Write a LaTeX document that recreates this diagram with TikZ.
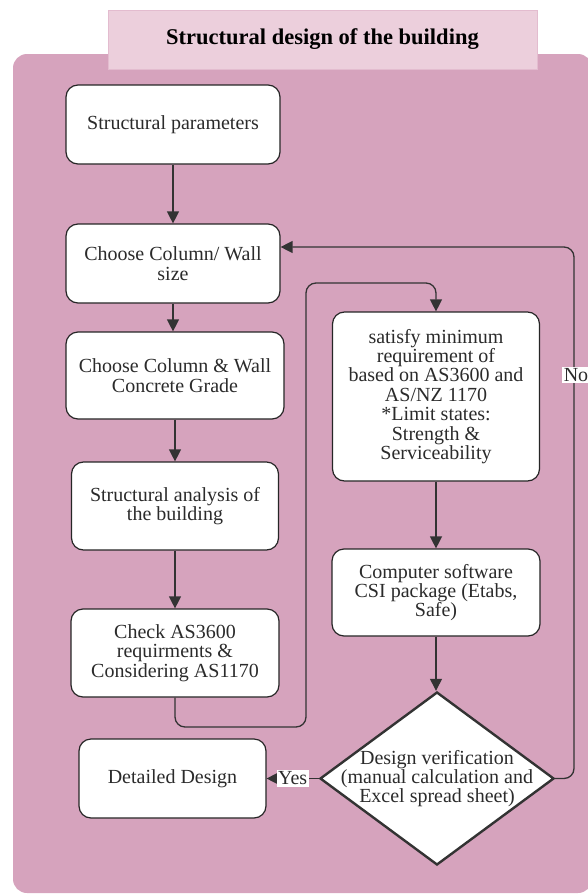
\documentclass[tikz,border=0pt]{standalone}
\usepackage{fontspec}
\setmainfont{Liberation Serif}
\usetikzlibrary{shapes.geometric,arrows.meta}
\definecolor{panelpink}{HTML}{D6A3BD}
\definecolor{titlepink}{HTML}{ECCFDC}
\definecolor{titleedge}{HTML}{E3BCCF}
\definecolor{linegray}{HTML}{333333}
\definecolor{textgray}{HTML}{2B2B2B}

\begin{document}
\begin{tikzpicture}[x=1pt,y=1pt,
  stage/.style={draw=black!85,line width=1.2pt,fill=white,rounded corners=12pt,
    align=center,inner sep=2pt,text=textgray,font=\fontsize{20}{19.4}\selectfont},
  decide/.style={diamond,draw=linegray,line width=2.4pt,fill=white,inner sep=0pt},
  flow/.style={draw=linegray,line width=1.3pt,-{Triangle[length=12pt,width=12pt]}},
  elbow/.style={rounded corners=10pt},
  tag/.style={fill=white,sharp corners,inner sep=1.5pt,text=textgray,font=\fontsize{20}{20}\selectfont}]
  \useasboundingbox (0,0) rectangle (587,-894);

  % panel and heading
  \fill[panelpink,rounded corners=14pt] (13,-54) rectangle (592,-893);
  \node[draw=titleedge,line width=1pt,fill=titlepink,minimum width=429pt,minimum height=59pt,
    font=\fontsize{22.5}{24}\selectfont\bfseries] (title) at (322.5,-39.5) {Structural design of the building};

  % left column
  \node[stage,minimum width=214pt,minimum height=79pt] (params) at (173,-124.5) {Structural parameters};
  \node[stage,minimum width=214pt,minimum height=79pt] (size) at (173,-263.5) {Choose Column/ Wall\\size};
  \node[stage,minimum width=218pt,minimum height=87pt] (grade) at (175,-375.5) {Choose Column \& Wall\\Concrete Grade};
  \node[stage,minimum width=207pt,minimum height=88pt] (analysis) at (175,-506) {Structural analysis of\\the building};
  \node[stage,minimum width=208pt,minimum height=88pt] (check) at (175,-653) {Check AS3600\\requirments \&\\Considering AS1170};
  \node[stage,minimum width=187pt,minimum height=79pt] (detail) at (172.5,-778.5) {Detailed Design};

  % right column
  \node[stage,minimum width=207pt,minimum height=169pt] (satisfy) at (436,-396.5)
    {satisfy minimum\\requirement of\\based on AS3600 and\\AS/NZ 1170\\*Limit states:\\Strength \&\\Serviceability};
  \node[stage,minimum width=208pt,minimum height=87pt] (software) at (436,-592.5)
    {Computer software\\CSI package (Etabs,\\Safe)};
  \node[decide,minimum width=234pt,minimum height=173pt] (verify) at (437,-778.5) {};
  \node[align=center,text=textgray,font=\fontsize{20}{19.4}\selectfont] (verifytext) at (verify.center)
    {Design verification\\(manual calculation and\\Excel spread sheet)};

  % turning points
  \coordinate (loopdown) at (306,-727);
  \coordinate (loopup) at (306,-283);
  \coordinate (noturn) at (574,-247);

  \draw[flow] (params) -- (size);
  \draw[flow] (size.south) -- (size.south |- grade.north);
  \draw[flow] (grade) -- (analysis);
  \draw[flow] (analysis) -- (check);
  \draw[flow,elbow] (check.south) |- (loopdown) -- (loopup) -| (satisfy.north);
  \draw[flow] (satisfy) -- (software);
  \draw[flow] (software.south) -- (software.south |- verify.north);
  \draw[flow] (verify.west) -- node[tag] (yes) {Yes} (detail.east);
  \draw[flow,elbow] (verify.east) -| (noturn) -- (size.east |- noturn);
  \node[tag] (no) at (576,-375) {No};
\end{tikzpicture}
\end{document}
